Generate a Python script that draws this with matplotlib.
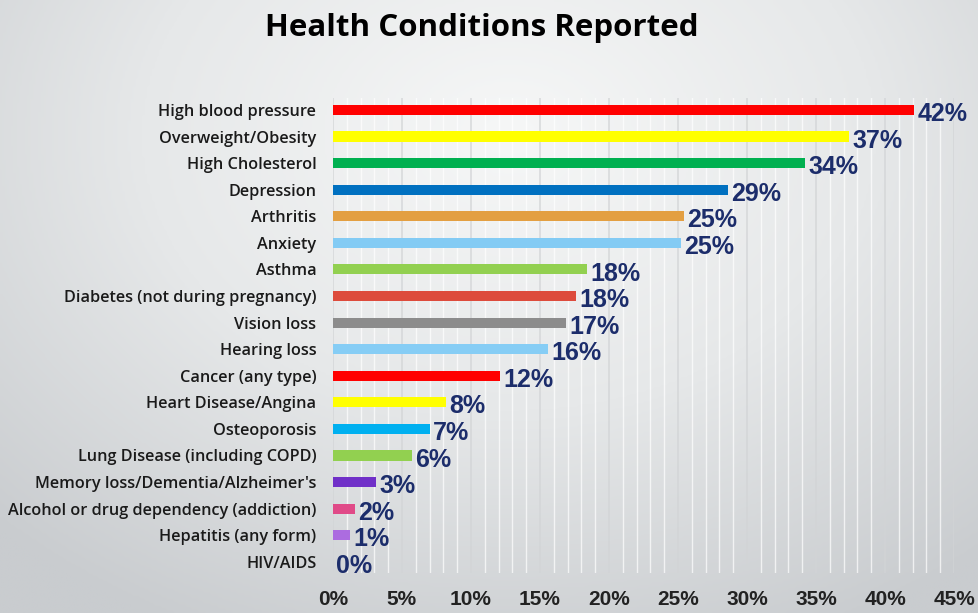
import numpy as np
import matplotlib
matplotlib.use('Agg')
import matplotlib.pyplot as plt
from matplotlib.colors import LinearSegmentedColormap

# Survey results: share of respondents reporting each condition (%)
conditions = [
    'High blood pressure', 'Overweight/Obesity', 'High Cholesterol', 'Depression',
    'Arthritis', 'Anxiety', 'Asthma', 'Diabetes (not during pregnancy)',
    'Vision loss', 'Hearing loss', 'Cancer (any type)', 'Heart Disease/Angina',
    'Osteoporosis', 'Lung Disease (including COPD)', "Memory loss/Dementia/Alzheimer's",
    'Alcohol or drug dependency (addiction)', 'Hepatitis (any form)', 'HIV/AIDS',
]
percent = [42.1, 37.4, 34.2, 28.6, 25.4, 25.2, 18.4, 17.6, 16.9, 15.6,
           12.1, 8.2, 7.0, 5.7, 3.1, 1.6, 1.2, 0.0]
bar_colors = ['#ff0000', '#ffff00', '#00b050', '#0070c0', '#e39f42', '#83cbf4',
              '#92d050', '#dd4b3c', '#8c8c8c', '#86cdf5', '#ff0000', '#ffff00',
              '#00b0f0', '#92d050', '#7030c8', '#e04a88', '#ac6ce0', '#000000']
xticks = list(range(0, 50, 5))

fig = plt.figure(figsize=(9.79, 6.13), dpi=100)

# soft radial grey backdrop
bg = fig.add_axes([0, 0, 1, 1], zorder=-10)
gx, gy = np.meshgrid(np.linspace(0, 1, 400), np.linspace(0, 1, 250))
r = np.sqrt(((gx - 0.52) / 0.75) ** 2 + ((gy - 0.22) / 0.9) ** 2)
bg_cmap = LinearSegmentedColormap.from_list('bg', ['#f6f7f7', '#e6e8e9', '#c9cccf'])
bg.imshow(np.clip(r, 0, 1), cmap=bg_cmap, aspect='auto', extent=[0, 1, 1, 0],
          interpolation='bilinear')
bg.set_xlim(0, 1)
bg.set_ylim(1, 0)
bg.axis('off')

ax = fig.add_axes([0.3401, 0.0653, 0.6344, 0.7749])
ax.patch.set_alpha(0)

y = np.arange(len(conditions))
ax.barh(y, percent, height=0.38, color=bar_colors, zorder=3)

for yi, v in zip(y, percent):
    ax.annotate('%d%%' % round(v), xy=(v, yi), xytext=(2.5, -3),
                textcoords='offset points', ha='left', va='center',
                fontsize=18, fontweight='bold', color='#1c2d6b',
                family=['Liberation Sans', 'DejaVu Sans'], zorder=4)

ax.set_xlim(0, 45)
ax.set_ylim(len(conditions) - 1 + 0.42, -0.45)
ax.set_xticks(xticks)
ax.set_xticklabels(['%d%%' % t for t in xticks], fontsize=15, fontweight='bold',
                   color='#222222', family=['Liberation Sans', 'DejaVu Sans'])
ax.set_xticks(np.arange(0, 46, 1), minor=True)
ax.set_yticks(y)
ax.set_yticklabels(conditions, fontsize=11.7, fontweight='semibold', color='#1a1a1a',
                   family=['Open Sans', 'DejaVu Sans'])
ax.tick_params(axis='both', which='both', length=0)
ax.tick_params(axis='x', pad=12)
ax.tick_params(axis='y', pad=12)

ax.grid(axis='x', which='minor', color='white', alpha=0.7, lw=1.0, zorder=1)
ax.grid(axis='x', which='major', color='#d2d4d6', alpha=0.8, lw=1.2, zorder=1)
for s in ax.spines.values():
    s.set_visible(False)

fig.text(0.4925, 0.955, 'Health Conditions Reported', ha='center', va='center',
         fontsize=22.5, fontweight='bold', color='black',
         family=['Liberation Sans Narrow', 'Open Sans', 'DejaVu Sans'])

fig.savefig('out.png', dpi=100)
